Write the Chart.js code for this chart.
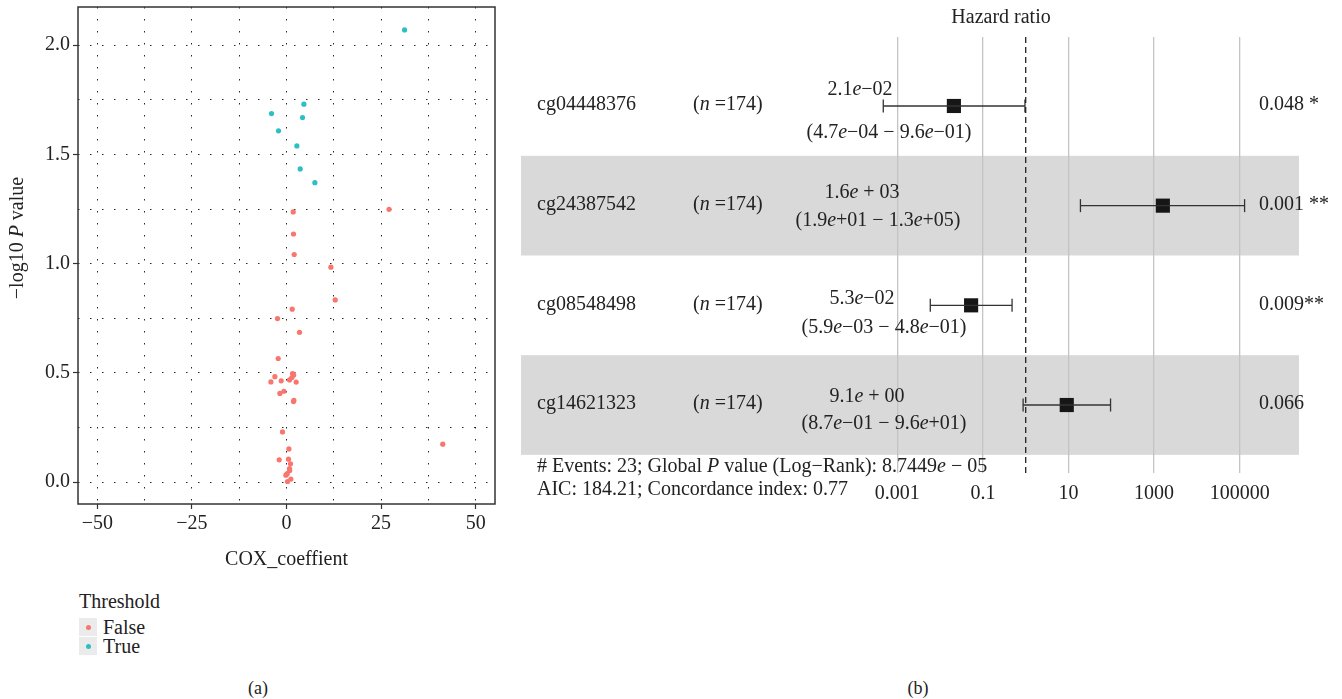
<!DOCTYPE html>
<html>
<head>
<meta charset="utf-8">
<script src="https://cdn.jsdelivr.net/npm/chart.js@4.4.1/dist/chart.umd.min.js"></script>
<style>
  body { margin: 0; width: 1342px; height: 699px; background: #fff; position: relative; overflow: hidden;
         font-family: 'Liberation Serif', serif; color: #222; }
  #volcanoBox { position: absolute; left: 0; top: 0; width: 515px; height: 580px; }
  #forestBox { position: absolute; left: 515px; top: 0; width: 827px; height: 560px; }
  .lg-title { position: absolute; left: 79px; top: 589px; font-size: 20px; line-height: 24px; }
  .lg-row { position: absolute; left: 79px; height: 19px; font-size: 20px; line-height: 19px; }
  .lg-row .key { position: absolute; left: 0; top: 0; width: 18px; height: 18px; background: #ebebeb; }
  .lg-row .key i { position: absolute; left: 6.5px; top: 6.5px; width: 5px; height: 5px; border-radius: 50%; }
  .lg-row span.txt { position: absolute; left: 24px; top: 0; white-space: nowrap; }
  .caption { position: absolute; top: 676px; font-size: 18px; line-height: 24px; width: 40px; text-align: center; }
</style>
</head>
<body>
<div id="volcanoBox"><canvas id="volcano" width="515" height="580"></canvas></div>
<div id="forestBox"><canvas id="forest" width="827" height="560"></canvas></div>
<div id="legend"></div>
<div class="caption" style="left:238px">(a)</div>
<div class="caption" style="left:898px">(b)</div>

<script>
// ---- panel (a): COX coefficient vs -log10 p ----
const coxFalse = [1.77, 27.1, 1.85, 2.03, 11.73, 12.87, 1.51, -2.38, 3.44, -2.19, 1.59, 1.9, -3.07, 1.42, 0.8,
                  -1.4, -4.12, 2.56, -0.69, -1.75, 1.95, 1.85, -1.06, 41.3, 0.63, -1.93, 0.53, 1.06, 0.8, 0.85,
                  0.19, -0.16, 1.16, 0.26];
const logpFalse = [1.237, 1.249, 1.136, 1.042, 0.984, 0.834, 0.792, 0.749, 0.686, 0.566, 0.497, 0.49, 0.483, 0.479, 0.468,
                   0.464, 0.459, 0.458, 0.416, 0.406, 0.375, 0.369, 0.23, 0.174, 0.152, 0.102, 0.105, 0.084, 0.062, 0.053,
                   0.039, 0.032, 0.014, 0.003];
const coxTrue = [31.2, 4.6, -3.96, 4.23, -2.11, 2.74, 3.62, 7.5];
const logpTrue = [2.07, 1.73, 1.687, 1.669, 1.608, 1.539, 1.434, 1.371];
const thresholdLabels = ['False', 'True'];
const thresholdColors = ['#F8766D', '#2CC0C4'];
const coxTicks = [-50, -37.5, -25, -12.5, 0, 12.5, 25, 37.5, 50];
const logpTicks = [0, 0.25, 0.5, 0.75, 1, 1.25, 1.5, 1.75, 2];

// ---- panel (b): forest plot ----
const genes = ['cg04448376', 'cg24387542', 'cg08548498', 'cg14621323'];
const nPatients = [174, 174, 174, 174];
const hazardRatio = [2.1e-2, 1.6e3, 5.3e-2, 9.1];
const ciLower = [4.7e-4, 1.9e1, 5.9e-3, 8.7e-1];
const ciUpper = [9.6e-1, 1.3e5, 4.8e-1, 9.6e1];
const pLabels = ['0.048 *', '0.001 **', '0.009**', '0.066'];
const hrTicks = [0.001, 0.1, 10, 1000, 100000];
const nEvents = 23;
const globalP = ['8.7449', '\u2212 05'];
const aic = 184.21;
const concordance = 0.77;

const FONT = "'Liberation Serif', serif";
Chart.defaults.font.family = FONT;
Chart.defaults.font.size = 20;
Chart.defaults.color = '#222';

function pts(xs, ys) { return xs.map((x, i) => ({ x: x, y: ys[i] })); }

function richText(ctx, parts, x, y, align, size) {
  const fonts = parts.map(p => (p[1] ? 'italic ' : '') + size + 'px ' + FONT);
  let total = 0;
  const widths = parts.map((p, k) => { ctx.font = fonts[k]; const w = ctx.measureText(p[0]).width; total += w; return w; });
  let cx = align === 'center' ? x - total / 2 : (align === 'right' ? x - total : x);
  ctx.textAlign = 'left';
  ctx.textBaseline = 'middle';
  ctx.fillStyle = '#222';
  parts.forEach((p, k) => { ctx.font = fonts[k]; ctx.fillText(p[0], cx, y); cx += widths[k]; });
}

// 2.1e-02 style, spaced plus for the estimate line
function sciParts(v, spacedPlus) {
  const s = v.toExponential(1).split('e');
  const ex = parseInt(s[1], 10);
  const digits = String(Math.abs(ex)).padStart(2, '0');
  let tail;
  if (ex < 0) tail = '\u2212' + digits;
  else tail = (spacedPlus ? ' + ' : '+') + digits;
  return [[s[0], false], ['e', true], [tail, false]];
}

// legend
const legendEl = document.getElementById('legend');
legendEl.innerHTML = '<div class="lg-title">Threshold</div>' + thresholdLabels.map((t, i) =>
  '<div class="lg-row" style="top:' + (618 + i * 19) + 'px"><span class="key"><i style="background:' +
  thresholdColors[i] + '"></i></span><span class="txt">' + t + '</span></div>').join('');

const volcanoFrame = {
  id: 'volcanoFrame',
  afterDraw(chart) {
    const { ctx, chartArea: a } = chart;
    ctx.save();
    ctx.strokeStyle = '#333';
    ctx.lineWidth = 1.5;
    ctx.strokeRect(a.left, a.top, a.right - a.left, a.bottom - a.top);
    ctx.translate(18, 238);
    ctx.rotate(-Math.PI / 2);
    richText(ctx, [['\u2212log10 ', false], ['P', true], [' value', false]], 0, 0, 'center', 20);
    ctx.restore();
  }
};

new Chart(document.getElementById('volcano'), {
  type: 'scatter',
  data: {
    datasets: [
      { label: thresholdLabels[0], data: pts(coxFalse, logpFalse), backgroundColor: thresholdColors[0], pointRadius: 2.6, borderWidth: 0 },
      { label: thresholdLabels[1], data: pts(coxTrue, logpTrue), backgroundColor: thresholdColors[1], pointRadius: 2.6, borderWidth: 0 }
    ]
  },
  options: {
    responsive: false,
    animation: false,
    events: [],
    layout: { padding: { top: 7, right: 20, left: 0, bottom: 0 } },
    scales: {
      x: {
        type: 'linear', min: -55.1, max: 55.1,
        afterBuildTicks: s => { s.ticks = coxTicks.map(v => ({ value: v })); },
        afterFit: s => { s.height = 76; s.paddingLeft = 0; s.paddingRight = 0; },
        grid: {
          color: 'rgba(0,0,0,0.85)', lineWidth: 1, tickLength: 5, tickWidth: 1.2,
          tickColor: c => (c.tick && c.tick.value % 25 === 0) ? '#333' : 'rgba(0,0,0,0)'
        },
        border: { display: false, dash: [1.5, 10.5] },
        ticks: {
          autoSkip: false, maxRotation: 0, padding: 3, color: '#222',
          callback: v => v % 25 === 0 ? (v < 0 ? '\u2212' + Math.abs(v) : String(v)) : ''
        },
        title: { display: true, text: 'COX_coeffient', color: '#222', padding: { top: 0, bottom: 8 } }
      },
      y: {
        type: 'linear', min: -0.1, max: 2.175,
        afterBuildTicks: s => { s.ticks = logpTicks.map(v => ({ value: v })); },
        afterFit: s => { s.width = 78; s.paddingTop = 0; s.paddingBottom = 0; },
        grid: {
          color: 'rgba(0,0,0,0.85)', lineWidth: 1, tickLength: 5, tickWidth: 1.2,
          tickColor: c => (c.tick && (c.tick.value * 2) % 1 === 0) ? '#333' : 'rgba(0,0,0,0)'
        },
        border: { display: false, dash: [1.5, 10.5] },
        ticks: {
          autoSkip: false, padding: 3, color: '#222',
          callback: v => (v * 2) % 1 === 0 ? v.toFixed(1) : ''
        }
      }
    },
    plugins: { legend: { display: false }, tooltip: { enabled: false } }
  },
  plugins: [volcanoFrame]
});

// ---- forest plot ----
const rowY = genes.map((g, i) => i + 1);
const yMin = 0.308, yMax = 4.682;
const OFFX = 515;
// label placement (page x, offsets from row centre)
const hrX = [860, 862, 862, 867], ciX = [889, 878, 884, 884];
const hrDy = [-16, -13, -7, -8], ciDy = [27, 15, 22, 19];

const forestDecor = {
  id: 'forestDecor',
  beforeDraw(chart) {
    const { ctx } = chart;
    const ys = chart.scales.y;
    ctx.save();
    ctx.fillStyle = '#d9d9d9';
    rowY.forEach((r, i) => {
      if (i % 2 === 1) {
        const t = ys.getPixelForValue(r - 0.5), b = ys.getPixelForValue(r + 0.5);
        ctx.fillRect(6, t, 778, b - t);
      }
    });
    ctx.restore();
  },
  afterDraw(chart) {
    const { ctx } = chart;
    const ys = chart.scales.y;
    ctx.save();
    genes.forEach((g, i) => {
      const cy = ys.getPixelForValue(rowY[i]);
      richText(ctx, [[g, false]], 22, cy - 1, 'left', 20);
      richText(ctx, [['(', false], ['n', true], [' =' + nPatients[i] + ')', false]], 178, cy - 1, 'left', 20);
      richText(ctx, sciParts(hazardRatio[i], true), hrX[i] - OFFX, cy + hrDy[i], 'center', 20);
      const ci = [['(', false]].concat(sciParts(ciLower[i], false), [[' \u2212 ', false]], sciParts(ciUpper[i], false), [[')', false]]);
      richText(ctx, ci, ciX[i] - OFFX, cy + ciDy[i], 'center', 20);
      richText(ctx, [[pLabels[i], false]], 744, cy - 1, 'left', 20);
    });
    richText(ctx, [['Hazard ratio', false]], 1001 - OFFX, 18, 'center', 20);
    richText(ctx, [['# Events: ' + nEvents + '; Global ', false], ['P', true], [' value (Log\u2212Rank): ' + globalP[0], false],
                   ['e', true], [' ' + globalP[1], false]], 22, 467, 'left', 20);
    richText(ctx, [['AIC: ' + aic + '; Concordance index: ' + concordance, false]], 22, 490, 'left', 20);
    ctx.restore();
  }
};

const ciDatasets = genes.map((g, i) => ({
  type: 'line',
  data: [{ x: ciLower[i], y: rowY[i] }, { x: ciUpper[i], y: rowY[i] }],
  borderColor: '#333', borderWidth: 1.3, pointRadius: 0
}));

new Chart(document.getElementById('forest'), {
  type: 'scatter',
  data: {
    datasets: [
      { type: 'line', data: [{ x: 1, y: yMin }, { x: 1, y: yMax }], borderColor: '#222', borderWidth: 1.3,
        borderDash: [6, 4], pointRadius: 0 },
      ...ciDatasets,
      { data: pts(ciLower, rowY).concat(pts(ciUpper, rowY)), pointStyle: 'line', rotation: 90, pointRadius: 6.5,
        borderColor: '#333', borderWidth: 1.3 },
      { data: pts(hazardRatio, rowY), pointStyle: 'rect', pointRadius: 10, backgroundColor: '#161616', borderWidth: 0 }
    ]
  },
  options: {
    responsive: false,
    animation: false,
    events: [],
    layout: { padding: { left: 335, right: 52, top: 37, bottom: 0 } },
    scales: {
      x: {
        type: 'logarithmic', min: 7.85e-5, max: 1.496e6, bounds: 'data',
        afterBuildTicks: s => { s.ticks = hrTicks.map(v => ({ value: v })); },
        afterFit: s => { s.height = 87; },
        grid: { color: '#c4c4c4', lineWidth: 1.3, drawTicks: false },
        border: { display: false },
        ticks: { autoSkip: false, maxRotation: 0, padding: 9, color: '#222', callback: v => String(v) }
      },
      y: { type: 'linear', reverse: true, min: yMin, max: yMax, display: false }
    },
    plugins: { legend: { display: false }, tooltip: { enabled: false } }
  },
  plugins: [forestDecor]
});
</script>
</body>
</html>
